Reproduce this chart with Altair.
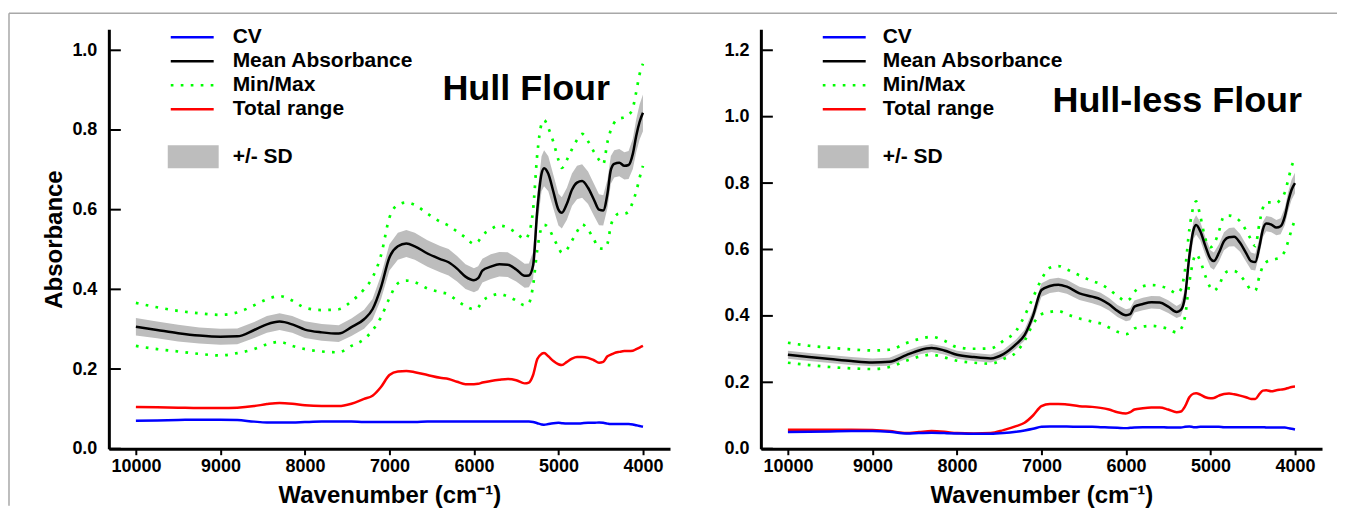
import altair as alt
import pandas as pd

# ---------------- data ----------------
WN = [10000, 9750, 9500, 9250, 9000, 8800, 8600, 8450, 8300, 8150,
      8000, 7800, 7600, 7450, 7300, 7200, 7100, 7000, 6900, 6800,
      6700, 6550, 6400, 6300, 6200, 6100, 6000, 5950, 5900, 5800,
      5700, 5600, 5500, 5400, 5350, 5300, 5250, 5200, 5170, 5120,
      5060, 5000, 4960, 4900, 4840, 4780, 4720, 4650, 4580, 4520,
      4470, 4420, 4380, 4340, 4280, 4220, 4170, 4120, 4080, 4040,
      4000]

HULL_MEAN = [0.306, 0.298, 0.290, 0.284, 0.281, 0.282, 0.298, 0.312, 0.319, 0.312,
             0.299, 0.292, 0.289, 0.305, 0.325, 0.350, 0.405, 0.480, 0.508, 0.515,
             0.508, 0.490, 0.476, 0.468, 0.452, 0.432, 0.423, 0.428, 0.447, 0.457,
             0.463, 0.462, 0.450, 0.434, 0.435, 0.460, 0.600, 0.690, 0.704, 0.690,
             0.645, 0.600, 0.592, 0.615, 0.650, 0.668, 0.672, 0.655, 0.625, 0.600,
             0.598, 0.640, 0.700, 0.715, 0.718, 0.710, 0.712, 0.740, 0.785, 0.820,
             0.843]
HULL_SD = [0.022, 0.021, 0.021, 0.020, 0.020, 0.020, 0.020, 0.021, 0.021, 0.021,
           0.021, 0.021, 0.021, 0.022, 0.024, 0.026, 0.030, 0.033, 0.034, 0.034,
           0.034, 0.033, 0.033, 0.033, 0.032, 0.031, 0.030, 0.030, 0.030, 0.031,
           0.031, 0.031, 0.030, 0.030, 0.030, 0.034, 0.040, 0.044, 0.045, 0.044,
           0.042, 0.040, 0.039, 0.040, 0.041, 0.042, 0.042, 0.041, 0.040, 0.039,
           0.038, 0.036, 0.035, 0.034, 0.034, 0.034, 0.035, 0.038, 0.041, 0.044,
           0.046]
HULL_MAX = [0.366, 0.355, 0.346, 0.340, 0.336, 0.342, 0.360, 0.375, 0.383, 0.372,
            0.354, 0.348, 0.350, 0.370, 0.400, 0.430, 0.485, 0.580, 0.612, 0.618,
            0.612, 0.590, 0.570, 0.560, 0.545, 0.530, 0.514, 0.520, 0.535, 0.551,
            0.560, 0.555, 0.542, 0.526, 0.540, 0.600, 0.740, 0.815, 0.825, 0.805,
            0.770, 0.725, 0.705, 0.725, 0.752, 0.775, 0.790, 0.772, 0.745, 0.725,
            0.714, 0.770, 0.800, 0.818, 0.828, 0.832, 0.838, 0.855, 0.895, 0.940,
            0.966]
HULL_MIN = [0.258, 0.250, 0.244, 0.238, 0.234, 0.240, 0.250, 0.262, 0.268, 0.258,
            0.250, 0.244, 0.242, 0.258, 0.275, 0.297, 0.330, 0.378, 0.415, 0.422,
            0.418, 0.402, 0.393, 0.387, 0.372, 0.358, 0.350, 0.355, 0.370, 0.383,
            0.388, 0.382, 0.372, 0.360, 0.365, 0.410, 0.500, 0.555, 0.562, 0.555,
            0.530, 0.505, 0.492, 0.500, 0.522, 0.545, 0.563, 0.550, 0.525, 0.503,
            0.502, 0.515, 0.560, 0.580, 0.590, 0.590, 0.595, 0.620, 0.645, 0.680,
            0.710]
HULL_RANGE = [0.105, 0.104, 0.103, 0.102, 0.102, 0.103, 0.107, 0.112, 0.115, 0.113,
              0.109, 0.107, 0.107, 0.113, 0.125, 0.133, 0.155, 0.185, 0.194, 0.195,
              0.192, 0.185, 0.178, 0.175, 0.168, 0.162, 0.162, 0.163, 0.166, 0.170,
              0.173, 0.175, 0.172, 0.164, 0.166, 0.185, 0.225, 0.238, 0.240, 0.232,
              0.220, 0.212, 0.210, 0.218, 0.226, 0.230, 0.230, 0.228, 0.222, 0.216,
              0.218, 0.232, 0.236, 0.240, 0.243, 0.245, 0.245, 0.246, 0.250, 0.254,
              0.258]
HULL_CV = [0.070, 0.071, 0.072, 0.073, 0.073, 0.072, 0.068, 0.066, 0.066, 0.066,
           0.067, 0.068, 0.068, 0.068, 0.067, 0.067, 0.067, 0.067, 0.067, 0.067,
           0.067, 0.068, 0.068, 0.068, 0.068, 0.068, 0.068, 0.068, 0.068, 0.068,
           0.068, 0.068, 0.068, 0.068, 0.068, 0.067, 0.064, 0.061, 0.060, 0.062,
           0.064, 0.065, 0.064, 0.063, 0.063, 0.063, 0.064, 0.065, 0.065, 0.066,
           0.065, 0.063, 0.062, 0.062, 0.062, 0.062, 0.062, 0.061, 0.059, 0.057,
           0.055]

HL_MEAN = [0.283, 0.276, 0.270, 0.264, 0.260, 0.262, 0.282, 0.296, 0.303, 0.296,
           0.283, 0.276, 0.272, 0.285, 0.315, 0.342, 0.400, 0.478, 0.490, 0.494,
           0.488, 0.468, 0.458, 0.450, 0.435, 0.415, 0.402, 0.405, 0.428, 0.436,
           0.441, 0.440, 0.428, 0.412, 0.418, 0.460, 0.580, 0.660, 0.674, 0.655,
           0.610, 0.572, 0.565, 0.590, 0.625, 0.637, 0.638, 0.620, 0.590, 0.565,
           0.562, 0.610, 0.660, 0.678, 0.675, 0.666, 0.670, 0.700, 0.745, 0.780,
           0.800]
HL_SD = [0.012, 0.012, 0.012, 0.012, 0.012, 0.012, 0.012, 0.012, 0.012, 0.012,
         0.012, 0.012, 0.012, 0.013, 0.014, 0.016, 0.018, 0.020, 0.021, 0.021,
         0.021, 0.020, 0.020, 0.020, 0.019, 0.018, 0.018, 0.018, 0.018, 0.019,
         0.019, 0.019, 0.019, 0.018, 0.019, 0.021, 0.025, 0.028, 0.029, 0.028,
         0.027, 0.026, 0.026, 0.026, 0.027, 0.028, 0.028, 0.027, 0.026, 0.026,
         0.025, 0.024, 0.023, 0.023, 0.023, 0.023, 0.024, 0.026, 0.028, 0.030,
         0.031]
HL_MAX = [0.319, 0.310, 0.304, 0.299, 0.296, 0.298, 0.318, 0.330, 0.337, 0.325,
          0.306, 0.301, 0.302, 0.325, 0.355, 0.400, 0.455, 0.510, 0.545, 0.550,
          0.540, 0.522, 0.505, 0.496, 0.480, 0.460, 0.445, 0.452, 0.472, 0.489,
          0.493, 0.490, 0.482, 0.468, 0.480, 0.540, 0.660, 0.730, 0.745, 0.700,
          0.632, 0.607, 0.615, 0.655, 0.700, 0.702, 0.698, 0.685, 0.658, 0.630,
          0.610, 0.680, 0.725, 0.742, 0.742, 0.740, 0.752, 0.772, 0.810, 0.850,
          0.875]
HL_MIN = [0.259, 0.252, 0.246, 0.242, 0.240, 0.246, 0.265, 0.277, 0.283, 0.275,
          0.265, 0.259, 0.256, 0.270, 0.290, 0.325, 0.375, 0.405, 0.412, 0.415,
          0.405, 0.392, 0.383, 0.377, 0.365, 0.352, 0.345, 0.350, 0.362, 0.368,
          0.370, 0.367, 0.361, 0.350, 0.360, 0.400, 0.500, 0.570, 0.586, 0.565,
          0.520, 0.485, 0.476, 0.492, 0.525, 0.535, 0.535, 0.522, 0.500, 0.478,
          0.476, 0.520, 0.550, 0.562, 0.568, 0.572, 0.578, 0.595, 0.625, 0.660,
          0.690]
HL_RANGE = [0.057, 0.057, 0.057, 0.057, 0.056, 0.053, 0.047, 0.050, 0.053, 0.051,
            0.047, 0.046, 0.047, 0.056, 0.068, 0.078, 0.100, 0.128, 0.135, 0.135,
            0.133, 0.128, 0.126, 0.123, 0.118, 0.110, 0.106, 0.110, 0.118, 0.122,
            0.124, 0.124, 0.118, 0.110, 0.112, 0.128, 0.155, 0.166, 0.167, 0.163,
            0.155, 0.152, 0.153, 0.160, 0.165, 0.166, 0.164, 0.160, 0.155, 0.150,
            0.150, 0.165, 0.175, 0.176, 0.173, 0.176, 0.178, 0.180, 0.183, 0.186,
            0.187]
HL_CV = [0.050, 0.051, 0.052, 0.053, 0.053, 0.051, 0.046, 0.047, 0.048, 0.047,
         0.046, 0.045, 0.045, 0.047, 0.051, 0.055, 0.060, 0.066, 0.067, 0.067,
         0.067, 0.066, 0.066, 0.065, 0.064, 0.063, 0.062, 0.063, 0.064, 0.065,
         0.065, 0.065, 0.064, 0.064, 0.064, 0.066, 0.067, 0.065, 0.065, 0.066,
         0.066, 0.066, 0.066, 0.066, 0.065, 0.065, 0.065, 0.065, 0.065, 0.065,
         0.065, 0.065, 0.065, 0.064, 0.064, 0.064, 0.064, 0.064, 0.062, 0.060,
         0.058]

X_TICKS = [10000, 9000, 8000, 7000, 6000, 5000, 4000]
HULL_YTICKS = [0.0, 0.2, 0.4, 0.6, 0.8, 1.0]
HL_YTICKS = [0.0, 0.2, 0.4, 0.6, 0.8, 1.0, 1.2]
LEGEND_LABELS = ["CV", "Mean Absorbance", "Min/Max", "Total range", "+/- SD"]
TITLES = ["Hull Flour", "Hull-less Flour"]
X_TITLE = "Wavenumber (cm\u207b\u00b9)"
Y_TITLE = "Absorbance"

FONT = "Liberation Sans"
GREEN = "#00ff00"
GRAY = "#bdbdbd"
W, H = 562, 420
DOT = [2.7, 7.3]


def one(label):
    return alt.Chart(pd.DataFrame({"t": [label]}))


def panel(mean, sd, mn, mx, rng, cv, ymax, yticks, title, ytitle, leg_lx, leg_tx, leg_bx, title_x, title_y, border):
    df = pd.DataFrame({
        "wn": WN, "mean": mean,
        "lo": [m - s for m, s in zip(mean, sd)],
        "hi": [m + s for m, s in zip(mean, sd)],
        "mn": mn, "mx": mx, "rng": rng, "cv": cv,
    })
    xs = alt.Scale(domain=[3680, 10320], reverse=True, nice=False, zero=False)
    xa = alt.Axis(values=X_TICKS, format="d", labelPadding=3, titlePadding=8)
    ys = alt.Scale(domain=[0, ymax], nice=False, zero=True)
    ya = alt.Axis(values=yticks, format=".1f", ticks=False, labelPadding=12, titlePadding=5)

    def X():
        return alt.X("wn:Q", scale=xs, axis=xa, title=X_TITLE)

    def Y(f):
        return alt.Y(f"{f}:Q", scale=ys, axis=ya, title=ytitle)

    base = alt.Chart(df)
    band = base.mark_area(color=GRAY, opacity=1).encode(x=X(), y=Y("lo"), y2=alt.Y2("hi:Q"))
    lmin = base.mark_line(color=GREEN, strokeWidth=2.7, strokeDash=DOT, interpolate="monotone").encode(x=X(), y=Y("mn"))
    lmax = base.mark_line(color=GREEN, strokeWidth=2.7, strokeDash=DOT, interpolate="monotone").encode(x=X(), y=Y("mx"))
    lrng = base.mark_line(color="#ff0000", strokeWidth=2.5, interpolate="monotone").encode(x=X(), y=Y("rng"))
    lcv = base.mark_line(color="#0000ff", strokeWidth=2.5, interpolate="monotone").encode(x=X(), y=Y("cv"))
    lmean = base.mark_line(color="black", strokeWidth=2.5, interpolate="monotone").encode(x=X(), y=Y("mean"))

    ticks = alt.Chart(pd.DataFrame({"tick": yticks})).mark_rule(color="black", strokeWidth=2).encode(
        y=Y("tick"), x=alt.value(0), x2=alt.value(12))

    layers = [band, lmin, lmax, lrng, lcv, lmean, ticks]

    # legend (drawn manually, as in the reference)
    rows_y = [8, 32, 56, 80]
    colors = ["#0000ff", "black", GREEN, "#ff0000"]
    for i, (lab, c, yy) in enumerate(zip(LEGEND_LABELS[:4], colors, rows_y)):
        kw = dict(color=c, strokeWidth=2.7 if i == 2 else 2.5)
        if i == 2:
            kw["strokeDash"] = DOT
        layers.append(one(lab).mark_rule(**kw).encode(
            x=alt.value(leg_lx), x2=alt.value(leg_lx + 43), y=alt.value(yy)))
        layers.append(one(lab).mark_text(align="left", baseline="middle", font=FONT, fontSize=21,
                                         fontWeight="bold", color="black").encode(
            x=alt.value(leg_tx), y=alt.value(yy), text="t:N"))
    layers.append(one("sd").mark_rect(color=GRAY).encode(
        x=alt.value(leg_bx), x2=alt.value(leg_bx + 51), y=alt.value(116), y2=alt.value(139)))
    layers.append(one(LEGEND_LABELS[4]).mark_text(align="left", baseline="middle", font=FONT, fontSize=21,
                                                  fontWeight="bold", color="black").encode(
        x=alt.value(leg_tx), y=alt.value(128), text="t:N"))
    layers.append(one(title).mark_text(align="center", baseline="middle", font=FONT, fontSize=36,
                                       fontWeight="bold", color="black").encode(
        x=alt.value(title_x), y=alt.value(title_y), text="t:N"))
    if border:
        layers.append(one("b").mark_rule(color="#a8a8a8", strokeWidth=1.5).encode(
            x=alt.value(-100), y=alt.value(-16), y2=alt.value(477)))
        layers.append(one("b").mark_rule(color="#a8a8a8", strokeWidth=1.5).encode(
            x=alt.value(-100), x2=alt.value(1230), y=alt.value(-16)))
    return alt.layer(*layers).properties(width=W, height=H)


left = panel(HULL_MEAN, HULL_SD, HULL_MIN, HULL_MAX, HULL_RANGE, HULL_CV, 1.0526, HULL_YTICKS,
             TITLES[0], Y_TITLE, 62, 124, 59, 418, 60, True)
right = panel(HL_MEAN, HL_SD, HL_MIN, HL_MAX, HL_RANGE, HL_CV, 1.263, HL_YTICKS,
              TITLES[1], None, 62, 122, 57, 417, 72, False)

chart = alt.hconcat(left, right, spacing=91, bounds="flush").properties(
    padding={"left": 0, "top": 4, "right": 0, "bottom": 0}
).configure_view(strokeWidth=0).configure_axis(
    domainColor="black", domainWidth=3, grid=False,
    labelFont=FONT, labelFontWeight="bold", labelFontSize=18, labelColor="black",
    titleFont=FONT, titleFontWeight="bold", titleFontSize=24, titleColor="black",
    tickColor="black", tickWidth=2, tickSize=6,
)

chart.save("out.html", embed_options={"renderer": "svg", "actions": False})
